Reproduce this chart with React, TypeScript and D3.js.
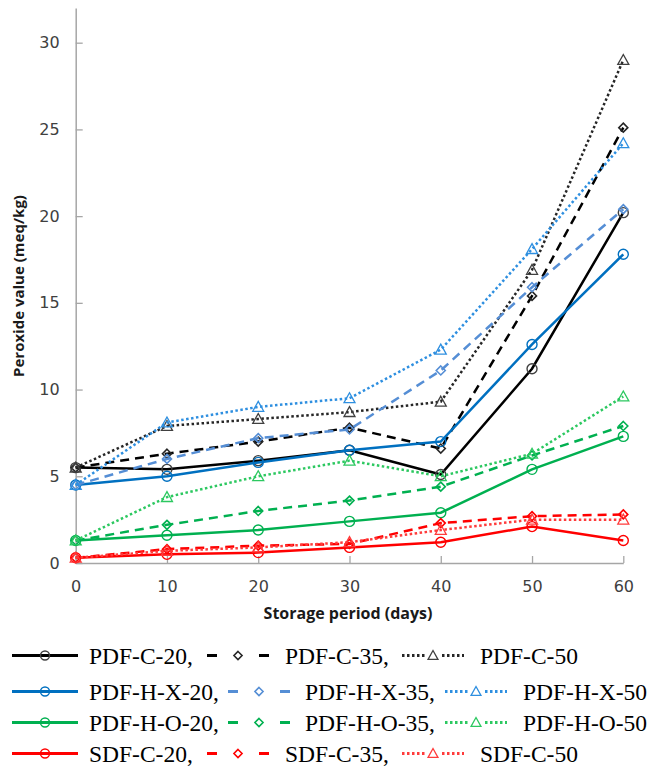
import React, { useEffect, useRef } from 'react';
import * as d3 from 'd3';

// storage days on x axis
const days = [0, 10, 20, 30, 40, 50, 60];
const yTicks = [0, 5, 10, 15, 20, 25, 30];

// peroxide values (meq/kg)
const pdfC20 = [5.5, 5.4, 5.9, 6.5, 5.1, 11.2, 20.2];
const pdfC35 = [5.5, 6.3, 7.0, 7.8, 6.6, 15.4, 25.1];
const pdfC50 = [5.5, 7.9, 8.3, 8.7, 9.3, 16.9, 29.0];
const pdfHX20 = [4.5, 5.0, 5.8, 6.5, 7.0, 12.6, 17.8];
const pdfHX35 = [4.5, 6.0, 7.2, 7.7, 11.1, 15.9, 20.4];
const pdfHX50 = [4.5, 8.1, 9.0, 9.5, 12.3, 18.1, 24.2];
const pdfHO20 = [1.3, 1.6, 1.9, 2.4, 2.9, 5.4, 7.3];
const pdfHO35 = [1.3, 2.2, 3.0, 3.6, 4.4, 6.2, 7.9];
const pdfHO50 = [1.3, 3.8, 5.0, 5.9, 5.0, 6.3, 9.6];
const sdfC20 = [0.3, 0.5, 0.6, 0.9, 1.2, 2.1, 1.3];
const sdfC35 = [0.3, 0.8, 1.0, 1.1, 2.3, 2.7, 2.8];
const sdfC50 = [0.3, 0.7, 0.9, 1.2, 1.9, 2.5, 2.5];

const series = [
    { name: 'PDF-C-20', values: pdfC20, color: '#000000', mark: '#404040', kind: 'solid', marker: 'circle' },
    { name: 'PDF-C-35', values: pdfC35, color: '#000000', mark: '#262626', kind: 'dash', marker: 'diamond' },
    { name: 'PDF-C-50', values: pdfC50, color: '#262626', mark: '#404040', kind: 'dot', marker: 'triangle' },
    { name: 'PDF-H-X-20', values: pdfHX20, color: '#0070C0', mark: '#0070C0', kind: 'solid', marker: 'circle' },
    { name: 'PDF-H-X-35', values: pdfHX35, color: '#558ED5', mark: '#558ED5', kind: 'dash', marker: 'diamond' },
    { name: 'PDF-H-X-50', values: pdfHX50, color: '#2E8FE0', mark: '#2E8FE0', kind: 'dot', marker: 'triangle' },
    { name: 'PDF-H-O-20', values: pdfHO20, color: '#00B050', mark: '#00B050', kind: 'solid', marker: 'circle' },
    { name: 'PDF-H-O-35', values: pdfHO35, color: '#00B050', mark: '#00B050', kind: 'dash', marker: 'diamond' },
    { name: 'PDF-H-O-50', values: pdfHO50, color: '#2CC860', mark: '#2CC860', kind: 'dot', marker: 'triangle' },
    { name: 'SDF-C-20', values: sdfC20, color: '#FF0000', mark: '#FF0000', kind: 'solid', marker: 'circle' },
    { name: 'SDF-C-35', values: sdfC35, color: '#FF0000', mark: '#FF0000', kind: 'dash', marker: 'diamond' },
    { name: 'SDF-C-50', values: sdfC50, color: '#FF3B3B', mark: '#FF3B3B', kind: 'dot', marker: 'triangle' },
];

// legend layout: [symbol x, text x] per row / column
const legendRows = [
    { y: 664, cols: [[12, 89], [207, 285], [402, 480]] },
    { y: 700, cols: [[12, 89], [228, 305], [445, 523]] },
    { y: 731, cols: [[12, 89], [228, 305], [445, 523]] },
    { y: 762, cols: [[12, 89], [207, 285], [402, 480]] },
];

const dashFor = (kind) => kind === 'dash' ? '9,6' : kind === 'dot' ? '2.5,2.5' : null;

const drawMarker = (g, type, cx, cy, color, s) => {
    if (type === 'circle') {
        g.append('circle').attr('cx', cx).attr('cy', cy).attr('r', s)
            .attr('fill', 'none').attr('stroke', color).attr('stroke-width', 1.4);
    } else if (type === 'diamond') {
        const d = s * 0.9;
        g.append('path')
            .attr('d', `M${cx},${cy - d}L${cx + d},${cy}L${cx},${cy + d}L${cx - d},${cy}Z`)
            .attr('fill', 'none').attr('stroke', color).attr('stroke-width', 1.6);
    } else {
        const h = s * 1.1;
        g.append('path')
            .attr('d', `M${cx},${cy - h}L${cx + h},${cy + h * 0.8}L${cx - h},${cy + h * 0.8}Z`)
            .attr('fill', 'none').attr('stroke', color).attr('stroke-width', 1.3);
    }
};

const App = () => {
    const ref = useRef(null);

    useEffect(() => {
        document.body.style.margin = '0';
        const svg = d3.select(ref.current);
        svg.selectAll('*').remove();

        let x = d3.scaleLinear().domain([0, 60]).range([75.7, 623.3]);
        let y = d3.scaleLinear().domain([0, 32]).range([563, 8]);

        // axes
        const yAxis = svg.append('g')
            .attr('transform', 'translate(75.7,0)')
            .call(d3.axisLeft(y).tickValues(yTicks).tickSize(-7).tickSizeOuter(0).tickPadding(16));
        const xAxis = svg.append('g')
            .attr('transform', 'translate(0,563)')
            .call(d3.axisBottom(x).tickValues(days).tickSize(-7).tickSizeOuter(0).tickPadding(18));
        [yAxis, xAxis].forEach((a) => {
            a.select('.domain').attr('stroke', '#a6a6a6').attr('stroke-width', 1.5);
            a.selectAll('.tick line').attr('stroke', '#a6a6a6').attr('stroke-width', 1.3);
            a.selectAll('.tick text')
                .attr('fill', '#404040')
                .style('font-family', '"DejaVu Sans", Verdana, sans-serif')
                .style('font-size', '16px');
        });

        svg.append('text')
            .attr('x', 348).attr('y', 619)
            .attr('text-anchor', 'middle')
            .style('font-family', '"Open Sans", sans-serif')
            .style('font-weight', 700)
            .style('font-size', '16px')
            .attr('fill', '#1a1a1a')
            .text('Storage period (days)');

        svg.append('text')
            .attr('transform', 'translate(24,286) rotate(-90)')
            .attr('text-anchor', 'middle')
            .style('font-family', '"Open Sans", sans-serif')
            .style('font-weight', 700)
            .style('font-size', '15px')
            .attr('fill', '#1a1a1a')
            .text('Peroxide value (meq/kg)');

        // series lines + markers
        const line = d3.line().x((d, i) => x(days[i])).y((d) => y(d));
        const plot = svg.append('g');
        series.forEach((s) => {
            plot.append('path')
                .attr('d', line(s.values))
                .attr('fill', 'none')
                .attr('stroke', s.color)
                .attr('stroke-width', 2.5)
                .attr('stroke-dasharray', dashFor(s.kind));
            s.values.forEach((v, i) => drawMarker(plot, s.marker, x(days[i]), y(v), s.mark, 5));
        });

        // legend
        const legend = svg.append('g');
        series.forEach((s, i) => {
            const row = legendRows[Math.floor(i / 3)];
            const col = i % 3;
            const [sx, tx] = row.cols[col];
            const w = col === 0 ? 66 : 62;
            const cy = row.y - 8.5;
            legend.append('line')
                .attr('x1', sx).attr('x2', sx + w)
                .attr('y1', cy).attr('y2', cy)
                .attr('stroke', s.color)
                .attr('stroke-width', 3.2)
                .attr('stroke-dasharray', s.kind === 'dash' ? '10,42' : s.kind === 'dot' ? '2.5,2.5' : null);
            if (s.kind === 'dot') {
                legend.append('rect').attr('x', sx + w / 2 - 7).attr('y', cy - 7).attr('width', 14).attr('height', 14).attr('fill', '#fff');
            }
            drawMarker(legend, s.marker, sx + w / 2, cy, s.mark, 4.5);
            legend.append('text')
                .attr('x', tx).attr('y', row.y)
                .style('font-family', '"Liberation Serif", "Times New Roman", serif')
                .style('font-size', '23.5px')
                .attr('fill', '#000')
                .text(s.name + (col < 2 ? ',' : ''));
        });
    }, []);

    return (
        <svg ref={ref} width={657} height={768} style={{ display: 'block', background: '#fff' }} />
    );
};

export default App;
